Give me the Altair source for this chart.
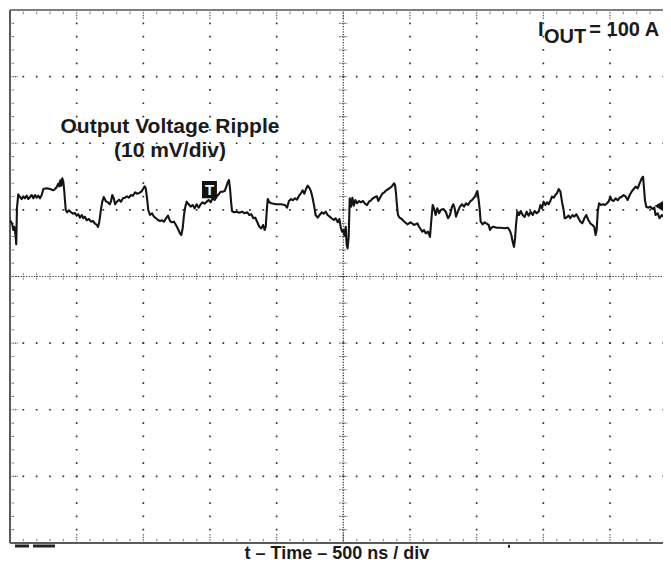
import altair as alt
import numpy as np
import pandas as pd

# ---------------- data ----------------
# time in ns from the left edge of the screen, voltage in mV from screen centre
seg1_t = [0, 7.5, 17, 25, 32, 40, 47, 52, 62, 75, 88, 100, 112, 125, 137, 150, 163, 175, 188, 200,
          212, 225, 238, 250, 275, 300, 325, 338, 350, 362, 370, 377, 385, 392, 400, 407, 412, 418, 428, 442,
          458, 472, 488, 500, 512, 525, 538, 550, 562, 575, 592, 608, 622, 638, 652, 660, 670, 680, 692, 703,
          718, 733, 748, 758, 767, 778, 788, 802, 818, 832, 848, 862, 878, 892, 908, 922, 938, 952, 968]
seg1_v = [8.48, 8.23, 7.83, 6.98, 7.47, 6.48, 4.83, 10.24, 12.34, 11.93, 11.63, 12.04, 11.74, 12.13, 11.63, 11.93, 12.23, 11.74, 12.23, 11.83,
          12.13, 11.74, 12.23, 13.13, 13.24, 13.13, 12.94, 13.13, 13.43, 13.93, 13.54, 14.44, 13.63, 14.74, 14.23, 12.83, 11.48, 9.98, 9.64, 9.94,
          9.64, 9.43, 9.53, 9.13, 9.34, 8.83, 9.23, 8.74, 8.98, 8.44, 8.63, 8.23, 8.33, 7.92, 7.73, 7.43, 8.23, 9.73, 11.23, 11.93,
          11.33, 11.14, 10.84, 11.33, 12.23, 11.74, 10.84, 11.23, 11.53, 11.23, 11.74, 11.83, 12.04, 11.83, 12.23, 12.13, 12.64, 12.43, 12.53]

seg2_t = [985, 998, 1010, 1018, 1028, 1037, 1050, 1065, 1080, 1095, 1110, 1125, 1140, 1155, 1170, 1185, 1200, 1215, 1230, 1245,
          1260, 1275, 1285, 1295, 1305, 1315, 1325, 1340, 1355, 1370, 1385, 1400, 1415, 1430, 1445, 1460, 1475, 1490, 1505, 1520,
          1535, 1550, 1565, 1580, 1595, 1610, 1622, 1635, 1642, 1650, 1658, 1665, 1680, 1700, 1720, 1740, 1760, 1780, 1795, 1810,
          1825, 1840, 1855, 1870, 1885, 1898, 1910, 1918, 1925, 1933, 1945, 1960]
seg2_v = [12.73, 13.13, 13.54, 13.24, 11.74, 9.98, 9.23, 9.49, 8.98, 8.74, 8.48, 8.33, 8.44, 8.23, 8.74, 9.13, 8.33, 8.14, 8.23, 7.73,
          7.13, 6.48, 6.23, 7.23, 9.23, 10.48, 11.23, 10.84, 10.48, 10.73, 10.24, 10.84, 10.33, 10.84, 11.14, 10.93, 11.23, 11.48, 11.14, 11.74,
          11.48, 11.98, 12.34, 12.73, 12.73, 12.83, 13.48, 14.23, 14.48, 13.24, 11.23, 9.83, 9.64, 9.73, 9.58, 9.73, 9.49, 9.64, 9.23, 9.34,
          8.74, 8.83, 8.14, 7.47, 7.23, 7.73, 6.98, 7.47, 9.73, 11.63, 11.14, 10.99]

seg3_t = [1995, 2032, 2062, 2078, 2092, 2108, 2122, 2138, 2152, 2168, 2182, 2195, 2208, 2220, 2232, 2245, 2258, 2270, 2282, 2292,
          2308, 2322, 2338, 2352, 2368, 2382, 2398, 2412, 2428, 2442, 2458, 2470, 2480, 2490, 2500, 2508, 2518, 2525, 2532, 2540,
          2548, 2558, 2568, 2578, 2590, 2602, 2618, 2632, 2648, 2662, 2678, 2692, 2708, 2722, 2738, 2752, 2762, 2778, 2792, 2808,
          2822, 2838, 2852, 2868, 2880, 2888, 2895, 2902, 2910, 2922, 2938, 2952]
seg3_v = [10.84, 10.84, 10.73, 10.33, 11.33, 11.63, 11.44, 11.74, 11.53, 12.13, 12.49, 12.94, 12.43, 13.13, 13.63, 13.33, 12.73, 11.74, 10.48, 9.23,
          8.83, 9.23, 9.64, 9.43, 9.73, 9.23, 8.98, 8.74, 8.48, 8.74, 8.14, 8.63, 7.47, 6.72, 6.98, 6.12, 7.47, 4.73, 4.23, 5.97,
          11.74, 10.48, 11.83, 10.63, 11.48, 10.99, 11.33, 11.14, 11.33, 10.93, 10.73, 11.23, 11.44, 11.74, 11.93, 12.04, 11.33, 11.93, 12.43, 12.64,
          12.94, 13.13, 13.33, 13.63, 13.99, 13.73, 12.49, 10.73, 9.23, 8.83, 8.63, 8.33]

seg4_t = [2980, 3005, 3030, 3055, 3068, 3092, 3105, 3118, 3135, 3150, 3160, 3170, 3180, 3192, 3205, 3218, 3230, 3250, 3268, 3285,
          3300, 3315, 3325, 3335, 3345, 3360, 3375, 3390, 3405, 3420, 3435, 3450, 3465, 3480, 3492, 3505, 3512, 3522, 3530, 3545,
          3560, 3575, 3590, 3600, 3610, 3625, 3650, 3680, 3710, 3735, 3750, 3760, 3770, 3780, 3788, 3795, 3805, 3818, 3830, 3845,
          3860, 3875, 3890, 3905, 3920, 3935, 3950]
seg4_v = [7.83, 8.14, 7.73, 7.98, 7.47, 6.72, 6.98, 6.48, 6.72, 5.93, 8.48, 10.73, 10.24, 9.23, 10.24, 9.49, 9.98, 10.13, 9.73, 8.74,
          9.23, 10.48, 10.84, 10.24, 8.98, 9.83, 10.48, 10.84, 10.48, 10.99, 10.73, 11.23, 11.48, 11.83, 12.23, 12.83, 11.98, 10.24, 8.23, 7.83,
          8.14, 7.92, 7.73, 6.98, 7.32, 7.47, 7.32, 7.32, 7.23, 7.32, 6.83, 6.23, 5.22, 4.43, 5.73, 7.73, 9.73, 9.23, 9.83, 9.23,
          8.93, 9.73, 9.13, 9.73, 9.23, 9.83, 9.49]

seg5_t = [3965, 3978, 3990, 4002, 4015, 4028, 4040, 4052, 4065, 4078, 4090, 4102, 4115, 4128, 4140, 4152, 4160, 4172, 4190, 4202,
          4218, 4232, 4248, 4262, 4278, 4292, 4308, 4322, 4338, 4352, 4368, 4382, 4392, 4400, 4408, 4418, 4432, 4448, 4462, 4478,
          4492, 4502, 4512, 4528, 4542, 4558, 4572, 4588, 4602, 4618, 4632, 4648, 4662, 4678, 4692, 4708, 4722, 4738, 4748, 4755,
          4762, 4772, 4788, 4802, 4818, 4832, 4842, 4858, 4872, 4888, 4902, 4918, 4932, 4948, 4962]
seg5_v = [9.73, 10.73, 10.24, 11.23, 10.73, 11.14, 10.84, 11.33, 11.98, 11.83, 12.23, 12.49, 13.13, 12.73, 11.23, 9.98, 8.74, 8.83, 9.13, 8.74,
          9.23, 8.98, 9.34, 8.83, 8.23, 7.98, 8.74, 9.23, 8.48, 7.98, 7.73, 7.43, 6.23, 6.98, 9.73, 10.99, 10.73, 10.84, 10.73, 10.99,
          11.33, 11.98, 11.48, 11.33, 11.74, 11.44, 11.83, 11.98, 12.23, 11.98, 11.48, 12.23, 12.73, 13.13, 13.48, 13.24, 13.99, 14.74, 14.98, 13.24,
          11.48, 10.48, 10.33, 10.48, 10.13, 10.33, 9.23, 9.49, 8.74, 9.23, 8.98, 9.49, 8.98, 9.23, 9.34]

x_title = "t \u2013 Time \u2013 500 ns / div"
ripple_lines = ["Output Voltage Ripple", "(10 mV/div)"]
iout_parts = ["I", "OUT", "= 100 A"]

# ---------------- screen geometry ----------------
T_DIV, V_DIV = 500, 10
W, H = 653, 533
T_MAX = W * 7.5           # 500 ns per 66.67 px: visible part of the screen
V_MIN, V_MAX = -40, 40
FONT = "Liberation Sans"
PX_T = T_MAX / W          # ns per pixel
PX_V = (V_MAX - V_MIN) / H  # mV per pixel

xs = alt.Scale(domain=[0, T_MAX], nice=False, zero=False)
ys = alt.Scale(domain=[V_MIN, V_MAX], nice=False, zero=False)
X = lambda f: alt.X(f, type="quantitative", scale=xs, axis=None)
Y = lambda f: alt.Y(f, type="quantitative", scale=ys, axis=None)

trace = pd.DataFrame({"t": seg1_t + seg2_t + seg3_t + seg4_t + seg5_t,
                      "v": seg1_v + seg2_v + seg3_v + seg4_v + seg5_v})

def seg_layer(df, **mark):
    return alt.Chart(df).mark_rule(**mark).encode(
        x=X("x"), x2="x2:Q", y=Y("y"), y2="y2:Q")

# dotted major grid
vt = [t for t in range(T_DIV, 5000, T_DIV) if t != 2500 and t < T_MAX]
hv = [v for v in range(-30, 40, V_DIV) if v != 0]
grid_vert = pd.DataFrame({"x": vt, "x2": vt, "y": V_MAX, "y2": V_MIN})
grid_hor = pd.DataFrame({"x": 0.0, "x2": T_MAX, "y": hv, "y2": hv})
step_y = H / 40
step_x = 100 / PX_T
g1 = seg_layer(grid_vert, color="#333", strokeWidth=1.7,
               strokeDash=[1.7, step_y - 1.7], strokeDashOffset=0.85)
g2 = seg_layer(grid_hor, color="#333", strokeWidth=1.7,
               strokeDash=[1.7, step_x - 1.7], strokeDashOffset=0.85)

# centre axes (dense dots)
cv = pd.DataFrame({"x": [2500.0], "x2": [2500.0], "y": [V_MAX], "y2": [V_MIN]})
ch = pd.DataFrame({"x": [0.0], "x2": [T_MAX], "y": [0.0], "y2": [0.0]})
c1 = seg_layer(cv, color="#333", strokeWidth=1.2, strokeDash=[1.2, step_y / 5 - 1.2])
c2 = seg_layer(ch, color="#333", strokeWidth=1.2, strokeDash=[1.2, step_x / 5 - 1.2])

# small ticks: centre crosses and border ticks
ticks = []
tminor = np.arange(100, T_MAX, 100)
for t in tminor:
    major = abs(t % 500) < 1e-6
    ticks.append((t, t, 3 * PX_V, -3 * PX_V))                       # centre horizontal axis
    L = (9 if major else 5) * PX_V
    ticks.append((t, t, V_MAX, V_MAX - L))                           # top edge
    ticks.append((t, t, V_MIN, V_MIN + L))                           # bottom edge
for v in np.arange(-38, 40, 2):
    major = abs(v % 10) < 1e-6
    ticks.append((2500 - 4 * PX_T, 2500 + 4 * PX_T, v, v))          # centre vertical axis
    L = (8 if major else 4) * PX_T
    ticks.append((0, L, v, v))                                       # left edge
tick_df = pd.DataFrame(ticks, columns=["x", "x2", "y", "y2"])
tk = seg_layer(tick_df, color="#444", strokeWidth=1.1, strokeDash=[1.3, 1.2])

# screen border
top = seg_layer(pd.DataFrame({"x": [0.0], "x2": [T_MAX], "y": [V_MAX], "y2": [V_MAX]}),
                color="#808080", strokeWidth=2)
left_b = seg_layer(pd.DataFrame({"x": [0.0], "x2": [0.0], "y": [V_MAX], "y2": [V_MIN]}),
                   color="#5a5a5a", strokeWidth=2)
bottom = seg_layer(pd.DataFrame({"x": [0.0], "x2": [T_MAX], "y": [V_MIN], "y2": [V_MIN]}),
                   color="#5a5a5a", strokeWidth=2)

# scope markers below the screen
marks_df = pd.DataFrame({"x": [37.5, 172.5, 3735.0], "x2": [142.5, 337.5, 3750.0],
                         "y": [-40.45, -40.45, -40.5], "y2": [-40.45, -40.45, -40.5]})
mk = seg_layer(marks_df, color="#222", strokeWidth=3)

# waveform
wave = alt.Chart(trace).mark_line(color="#141414", strokeWidth=2.1, strokeJoin="round", clip=True).encode(
    x=X("t"), y=Y("v"), order="t:Q")

# trigger marker "T"
trig = pd.DataFrame({"x": [1440.0], "x2": [1552.0], "y": [14.33], "y2": [11.74]})
trig_box = alt.Chart(trig).mark_rect(color="#111").encode(x=X("x"), x2="x2:Q", y=Y("y"), y2="y2:Q")
trig_txt = alt.Chart(pd.DataFrame({"x": [1496.0], "y": [13.0], "s": ["T"]})).mark_text(
    color="white", font=FONT, fontWeight="bold", fontSize=15, baseline="middle", align="center"
).encode(x=X("x"), y=Y("y"), text="s:N")

# channel marker at right edge
chan = alt.Chart(pd.DataFrame({"x": [4868.0], "y": [10.58]})).mark_point(
    shape="triangle-left", filled=True, color="#111", size=110, opacity=1
).encode(x=X("x"), y=Y("y"))

# annotations
rip = alt.Chart(pd.DataFrame({"x": [1200.0, 1200.0], "y": [21.54, 17.94], "s": ripple_lines})).mark_text(
    font=FONT, fontWeight="bold", fontSize=21, color="#1a1a1a", align="center", baseline="alphabetic"
).encode(x=X("x"), y=Y("y"), text="s:N")

iout_df = pd.DataFrame({"x": [3960.0, 4005.0, 4345.0],
                        "y": [36.1, 35.0, 36.1],
                        "s": iout_parts})
iout = alt.Chart(iout_df).mark_text(
    font=FONT, fontWeight="bold", fontSize=20, color="#1a1a1a", align="left", baseline="alphabetic"
).encode(x=X("x"), y=Y("y"), text="s:N")

xt = alt.Chart(pd.DataFrame({"x": [2452.0], "y": [-41.6], "s": [x_title]})).mark_text(
    font=FONT, fontWeight="bold", fontSize=18, color="#1a1a1a", align="center", baseline="middle"
).encode(x=X("x"), y=Y("y"), text="s:N")

chart = alt.layer(
    g1, g2, c1, c2, tk, top, left_b, bottom, mk, wave, trig_box, trig_txt, chan, rip, iout, xt
).properties(
    width=W, height=H,
    autosize=alt.AutoSizeParams(type="none"),
    padding={"left": 2, "top": 2, "right": 0, "bottom": 23},
    background="white",
).configure_view(stroke=None)

chart.save("out.html", embed_options={"renderer": "svg", "actions": False})
